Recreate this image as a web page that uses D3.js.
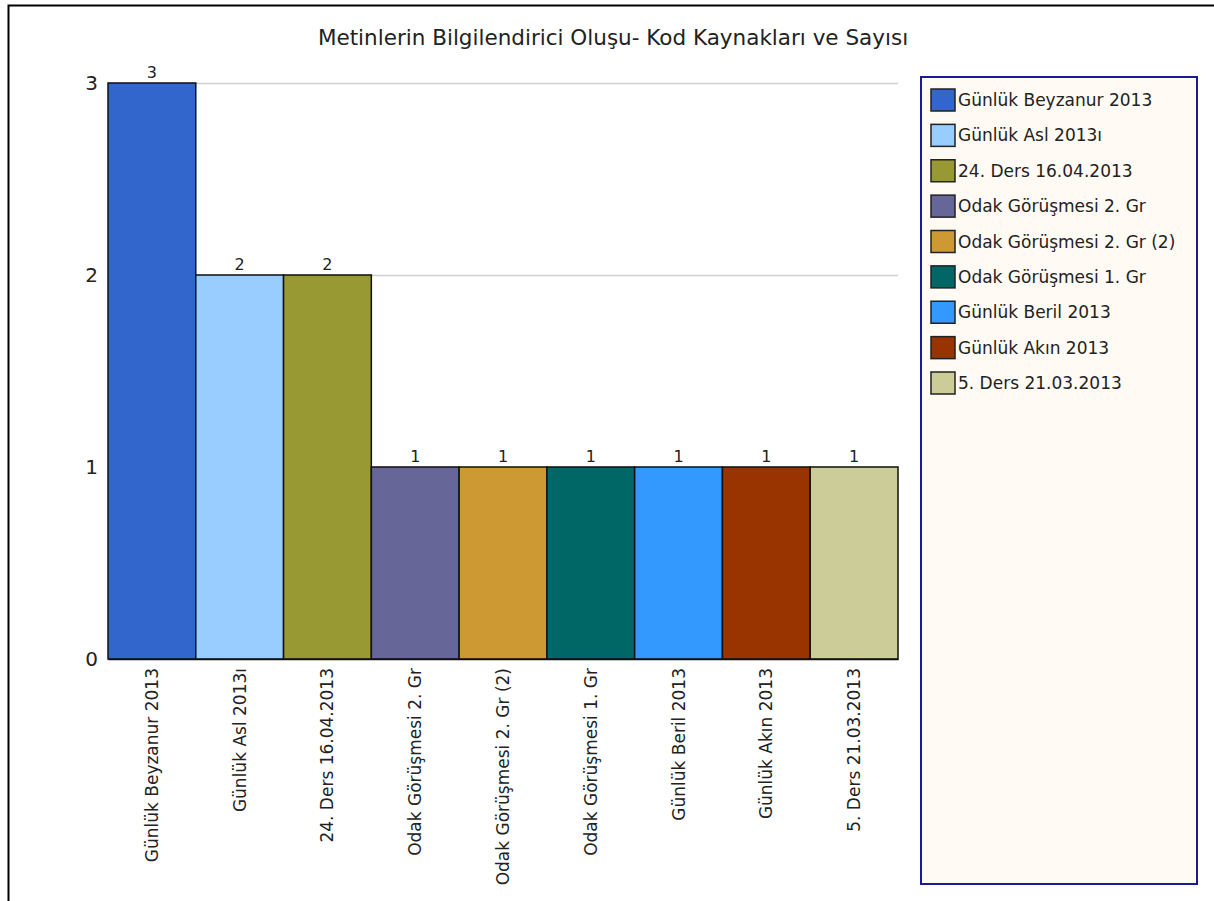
<!DOCTYPE html>
<html><head><meta charset="utf-8">
<script src="https://cdn.jsdelivr.net/npm/d3@7"></script>
<style>body{margin:0;background:#fff}svg{display:block}text{font-family:"DejaVu Sans",sans-serif}</style>
</head><body>
<script>
const categories = ["Günlük Beyzanur 2013","Günlük Asl 2013ı","24. Ders 16.04.2013","Odak Görüşmesi 2. Gr","Odak Görüşmesi 2. Gr (2)","Odak Görüşmesi 1. Gr","Günlük Beril 2013","Günlük Akın 2013","5. Ders 21.03.2013"];
const values = [3,2,2,1,1,1,1,1,1];
const colors = ["#3366CC","#99CCFF","#999933","#666699","#CC9933","#006666","#3399FF","#993300","#CCCC99"];
const yTicks = [0,1,2,3];
const title = "Metinlerin Bilgilendirici Oluşu- Kod Kaynakları ve Sayısı";

const W=1214,H=901;
const FF="DejaVu Sans, sans-serif";
const svg=d3.select("body").append("svg").attr("width",W).attr("height",H);
// outer frame
svg.append("path").attr("d","M8.5,901 L8.5,5.5 L1214,5.5").attr("fill","none").attr("stroke","#000").attr("stroke-width",2);

svg.append("text").attr("x",613).attr("y",45).attr("text-anchor","middle").attr("font-size",21.5).attr("fill","#222").text(title);

const x=d3.scaleBand().domain(categories).range([108,898]).padding(0);
const y=d3.scaleLinear().domain([0,3]).range([659,83]);

// gridlines
svg.append("g").selectAll("line").data(yTicks.filter(d=>d>0)).join("line")
  .attr("x1",108).attr("x2",898).attr("y1",d=>y(d)+0.5).attr("y2",d=>y(d)+0.5)
  .attr("stroke","#d0d0d0").attr("stroke-width",1.5);

// y axis labels
const ya=svg.append("g").attr("transform","translate(108,0)").call(d3.axisLeft(y).tickValues(yTicks).tickSize(0).tickPadding(10).tickFormat(d3.format("d")));
ya.select(".domain").remove();
ya.selectAll("text").attr("font-size",20).attr("fill","#222").attr("font-family",FF);

// bars
svg.append("g").selectAll("rect").data(values).join("rect")
  .attr("x",(d,i)=>x(categories[i])).attr("width",x.bandwidth())
  .attr("y",d=>y(d)).attr("height",d=>y(0)-y(d))
  .attr("fill",(d,i)=>colors[i]).attr("stroke","#111").attr("stroke-width",1.5);

// value labels
svg.append("g").selectAll("text").data(values).join("text")
  .attr("x",(d,i)=>x(categories[i])+x.bandwidth()/2).attr("y",d=>y(d)-5)
  .attr("text-anchor","middle").attr("font-size",16).attr("fill","#222").text(d=>d);

// x axis
const xa=svg.append("g").attr("transform","translate(0,659)").call(d3.axisBottom(x).tickSize(0).tickPadding(0));
xa.select(".domain").attr("stroke","#111").attr("stroke-width",1.5);
xa.selectAll("text").attr("font-size",17).attr("fill","#222").attr("font-family",FF)
  .attr("transform","rotate(-90)").attr("text-anchor","end").attr("dy","0.35em").attr("x",-9).attr("y",0);

// legend
const lg=svg.append("g");
lg.append("rect").attr("x",921).attr("y",77).attr("width",276).attr("height",807).attr("fill","#FFFAF3").attr("stroke","#1a1a99").attr("stroke-width",2);
const ly=d3.scalePoint().domain(categories).range([100,383]);
lg.selectAll("rect.sw").data(categories).join("rect").attr("class","sw")
  .attr("x",931).attr("y",d=>ly(d)-11).attr("width",24).attr("height",22)
  .attr("fill",(d,i)=>colors[i]).attr("stroke","#222").attr("stroke-width",1.5);
lg.selectAll("text").data(categories).join("text")
  .attr("x",958).attr("y",d=>ly(d)+6).attr("font-size",17).attr("fill","#222").text(d=>d);
</script>
</body></html>
